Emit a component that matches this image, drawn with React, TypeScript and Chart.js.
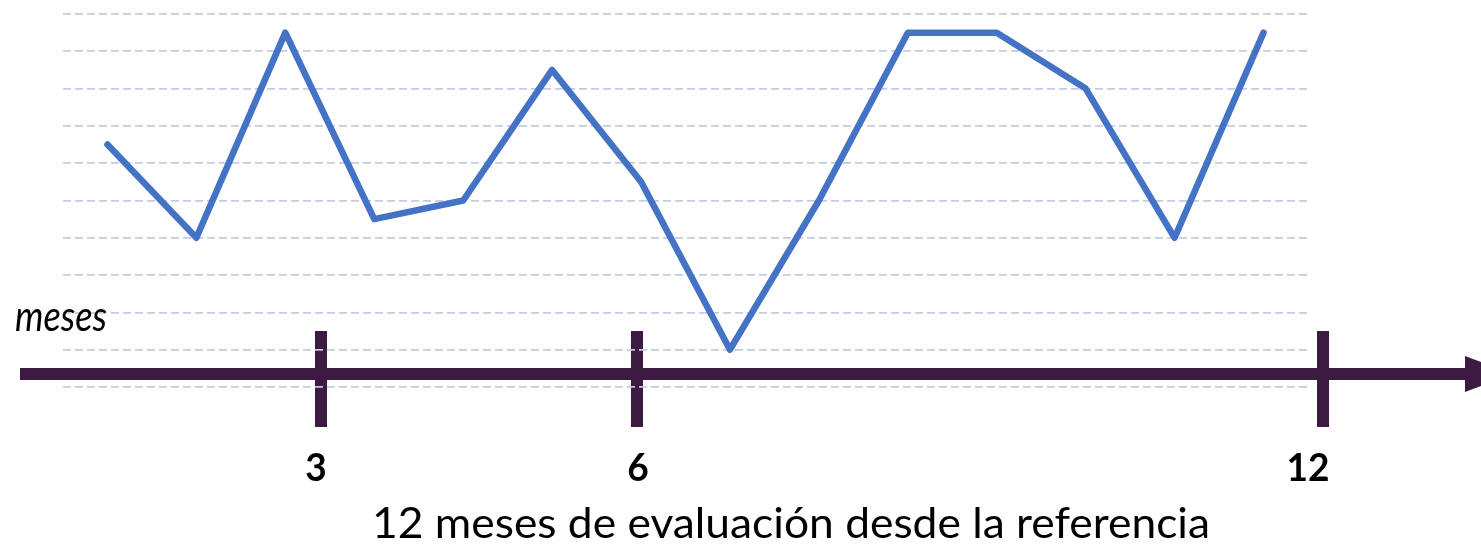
import React, { useEffect, useRef } from 'react';
import { Chart, registerables } from 'chart.js';

Chart.register(...registerables);

// ---- data ----
const categories = ['1', '2', '3', '4', '5', '6', '7', '8', '9', '10', '11', '12', '13', '14'];
const values = [6.5, 4, 9.5, 4.5, 5, 8.5, 5.5, 1, 5, 9.5, 9.5, 8, 4, 9.5];
const monthTickLabels = ['3', '6', '12'];
const axisName = 'meses';
const axisTitle = '12 meses de evaluación desde la referencia';

// ---- layout / style ----
const W = 1481;
const H = 545;
const AXIS_COLOR = '#3c1a41';
const LINE_COLOR = '#4472c4';
const GRID_COLOR = '#c0cce3';
const AXIS_Y = 374;
const AXIS_THICK = 12;
const AXIS_X0 = 20;
const ARROW_BASE_X = 1465;
const ARROW_TIP_X = 1513;
const ARROW_HALF = 18;
const TICK_XS = [321, 637, 1323];
const TICK_TOP = 331;
const TICK_BOTTOM = 427;
const LABEL_XS = [316, 638, 1308];
const FONT_FAMILY = 'Lato, "Open Sans", "Liberation Sans", sans-serif';

function drawStretched(
  ctx: CanvasRenderingContext2D,
  text: string,
  font: string,
  x: number,
  baseline: number,
  align: CanvasTextAlign,
  targetWidth: number
) {
  ctx.save();
  ctx.font = font;
  ctx.textBaseline = 'alphabetic';
  const w = ctx.measureText(text).width || 1;
  const sx = targetWidth / w;
  ctx.translate(x, baseline);
  ctx.scale(sx, 1);
  ctx.textAlign = align;
  ctx.fillStyle = '#000';
  ctx.fillText(text, 0, 0);
  ctx.restore();
}

const timelinePlugin = {
  id: 'timeline',
  beforeDraw(chart: Chart) {
    const ctx = chart.ctx;
    ctx.save();
    ctx.fillStyle = '#ffffff';
    ctx.fillRect(0, 0, W, H);
    ctx.fillStyle = AXIS_COLOR;
    // main axis
    ctx.fillRect(AXIS_X0, AXIS_Y - AXIS_THICK / 2, ARROW_BASE_X - AXIS_X0, AXIS_THICK);
    // arrow head
    ctx.beginPath();
    ctx.moveTo(ARROW_BASE_X, AXIS_Y - ARROW_HALF);
    ctx.lineTo(ARROW_TIP_X, AXIS_Y);
    ctx.lineTo(ARROW_BASE_X, AXIS_Y + ARROW_HALF);
    ctx.closePath();
    ctx.fill();
    // tick marks
    TICK_XS.forEach((tx) => {
      ctx.fillRect(tx - AXIS_THICK / 2, TICK_TOP, AXIS_THICK, TICK_BOTTOM - TICK_TOP);
    });
    ctx.restore();
  },
  afterDraw(chart: Chart) {
    const ctx = chart.ctx;
    const tickFont = `bold 39px ${FONT_FAMILY}`;
    ctx.save();
    ctx.font = tickFont;
    const ref = ctx.measureText('12').width || 1;
    const sx = 43 / ref;
    ctx.restore();
    monthTickLabels.forEach((lab, i) => {
      ctx.save();
      ctx.font = tickFont;
      const w = ctx.measureText(lab).width;
      ctx.restore();
      drawStretched(ctx, lab, tickFont, LABEL_XS[i], 481, 'center', w * sx);
    });
    drawStretched(ctx, axisName, `italic 42px ${FONT_FAMILY}`, 15, 331, 'left', 92);
    drawStretched(ctx, axisTitle, `42px ${FONT_FAMILY}`, 372, 538, 'left', 838);
  },
};

export default function App() {
  const canvasRef = useRef<HTMLCanvasElement | null>(null);

  useEffect(() => {
    const canvas = canvasRef.current;
    if (!canvas) return;
    const chart = new Chart(canvas, {
      type: 'line',
      data: {
        labels: categories,
        datasets: [
          {
            data: values,
            borderColor: LINE_COLOR,
            borderWidth: 6.5,
            pointRadius: 0,
            pointHoverRadius: 0,
            tension: 0,
            borderCapStyle: 'round',
            borderJoinStyle: 'round',
            fill: false,
          },
        ],
      },
      options: {
        responsive: false,
        animation: false,
        devicePixelRatio: 1,
        layout: {
          padding: { left: 63, right: 173, top: 14, bottom: 158 },
        },
        plugins: {
          legend: { display: false },
          tooltip: { enabled: false },
          title: { display: false },
        },
        scales: {
          x: {
            type: 'category',
            offset: true,
            display: false,
          },
          y: {
            min: 0,
            max: 10,
            display: true,
            ticks: { display: false, stepSize: 1 },
            grid: {
              display: true,
              drawTicks: false,
              color: GRID_COLOR,
              lineWidth: 1.7,
            },
            border: { display: false, dash: [8, 4] },
          },
        },
      },
      plugins: [timelinePlugin],
    });
    return () => chart.destroy();
  }, []);

  return (
    <div style={{ position: 'fixed', left: 0, top: 0, width: W, height: H, background: '#fff' }}>
      <canvas ref={canvasRef} width={W} height={H} style={{ display: 'block', width: W, height: H }} />
    </div>
  );
}
